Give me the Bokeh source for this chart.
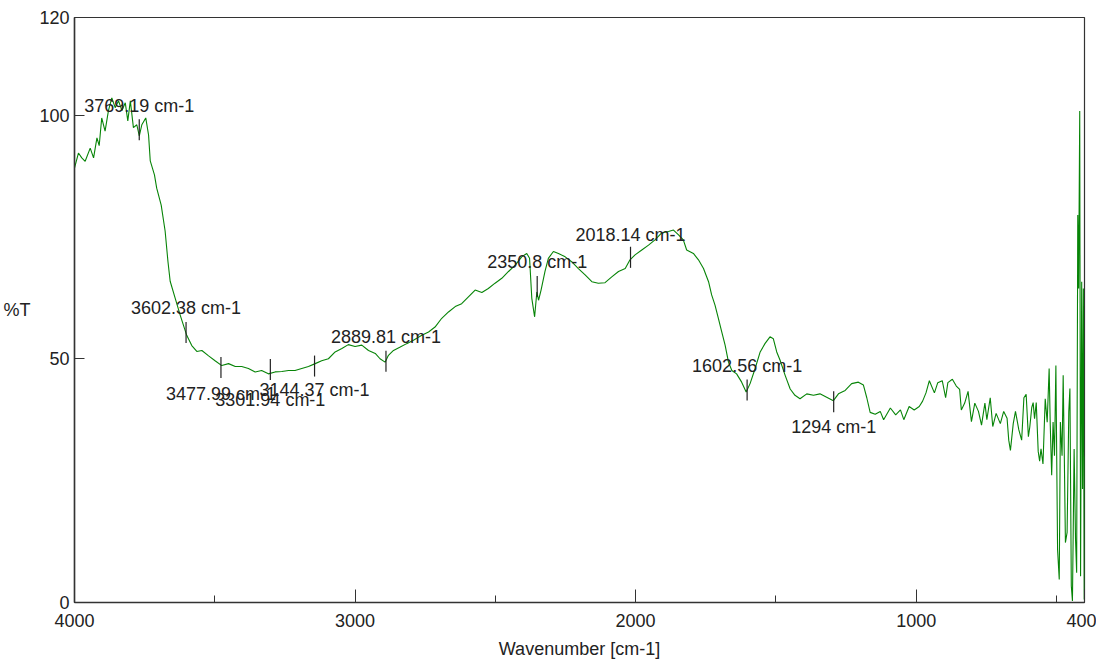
import numpy as np
from bokeh.plotting import figure
from bokeh.models import Range1d, FixedTicker, ColumnDataSource
from bokeh.embed import file_html
from bokeh.resources import INLINE
from bokeh.core.properties import value

# ---------------- data ----------------
wavenumber = [
    4000, 3986, 3974, 3962, 3944, 3932, 3920, 3912, 3903, 3891, 3879, 3867, 3855, 3843,
    3831, 3819, 3810, 3801, 3790, 3778, 3769, 3760, 3746, 3736, 3730, 3715, 3707, 3691,
    3677, 3667, 3659, 3641, 3623, 3600, 3582, 3564, 3546, 3522, 3499, 3475, 3451, 3427,
    3404, 3380, 3356, 3333, 3309, 3285, 3261, 3237, 3214, 3190, 3166, 3142, 3119, 3095,
    3071, 3047, 3024, 3000, 2976, 2952, 2928, 2911, 2893, 2881, 2863, 2839, 2816, 2792,
    2762, 2738, 2715, 2691, 2667, 2643, 2620, 2596, 2572, 2548, 2525, 2501, 2477, 2453,
    2429, 2406, 2388, 2378, 2370, 2360, 2352, 2346, 2337, 2323, 2311, 2293, 2275, 2251,
    2228, 2204, 2180, 2156, 2133, 2109, 2085, 2061, 2037, 2020, 2002, 1978, 1954, 1931,
    1907, 1883, 1865, 1847, 1830, 1818, 1794, 1776, 1758, 1740, 1729, 1717, 1705, 1693,
    1681, 1669, 1657, 1640, 1622, 1606, 1592, 1574, 1556, 1539, 1521, 1509, 1497, 1485,
    1467, 1449, 1432, 1414, 1390, 1366, 1343, 1319, 1295, 1277, 1253, 1230, 1206, 1188,
    1176, 1164, 1146, 1128, 1116, 1092, 1073, 1056, 1044, 1025, 1007, 989, 977, 965,
    953, 935, 923, 907, 895, 887, 871, 857, 845, 839, 827, 815, 803, 791,
    778, 767, 755, 748, 736, 727, 715, 700, 688, 676, 670, 664, 654, 646,
    634, 624, 616, 608, 600, 595, 588, 583, 578, 572, 565, 560, 555, 548,
    540, 533, 526, 522, 517, 512, 507, 502, 496, 490, 486, 480, 476, 472,
    468, 462, 456, 452, 447, 443, 437, 432, 428, 424, 421, 417, 414, 410,
    407, 404, 401, 400,
]
transmittance = [
    89.1, 92.2, 91.2, 90.5, 93.2, 91.2, 95.3, 93.7, 99.4, 96.7, 100.9, 103.5, 101.5, 102.9,
    100.9, 102.5, 98.8, 102.9, 97.4, 98.0, 95.7, 98.0, 99.4, 95.9, 90.6, 87.7, 85.0, 81.5,
    76.2, 70.0, 65.9, 62.4, 58.9, 54.8, 52.7, 51.5, 51.7, 50.6, 49.6, 48.6, 49.0, 48.4,
    48.4, 48.0, 47.3, 47.6, 46.9, 47.3, 47.4, 47.6, 47.6, 48.0, 48.4, 49.0, 49.6, 50.0,
    51.4, 52.1, 52.9, 52.5, 52.8, 51.7, 51.1, 50.0, 49.3, 50.7, 51.7, 52.4, 53.1, 53.8,
    54.8, 55.5, 56.5, 58.3, 59.6, 60.7, 61.3, 62.7, 64.1, 63.6, 64.4, 65.5, 66.5, 67.9,
    69.2, 70.9, 71.6, 70.6, 62.4, 58.6, 63.7, 62.0, 64.1, 67.9, 70.6, 72.0, 71.6, 70.9,
    69.9, 68.5, 67.2, 65.8, 65.5, 65.6, 66.8, 67.9, 68.5, 70.3, 71.3, 72.3, 73.3, 74.4,
    75.8, 76.1, 76.4, 75.4, 74.4, 72.3, 71.6, 70.3, 68.5, 65.8, 63.1, 61.0, 58.3, 55.5,
    52.8, 49.3, 47.6, 46.9, 45.2, 43.2, 44.9, 48.0, 51.4, 53.1, 54.5, 54.1, 51.4, 49.7,
    46.6, 43.8, 42.5, 41.8, 42.8, 42.5, 42.8, 42.1, 41.4, 42.8, 43.5, 44.9, 45.2, 44.6,
    42.0, 39.0, 38.6, 39.2, 37.5, 39.9, 38.5, 39.5, 37.5, 40.2, 39.5, 40.2, 41.3, 43.0,
    45.5, 43.0, 45.1, 45.5, 42.0, 45.1, 45.8, 44.4, 43.7, 39.5, 40.9, 43.3, 37.1, 40.9,
    39.2, 36.4, 40.9, 37.5, 42.0, 36.1, 38.8, 36.7, 39.2, 37.8, 33.3, 31.2, 36.7, 39.2,
    35.4, 33.3, 42.0, 42.7, 34.0, 36.0, 40.0, 41.0, 37.7, 41.0, 31.0, 29.0, 31.5, 28.4,
    41.8, 37.0, 48.0, 36.3, 26.1, 37.0, 30.1, 48.6, 10.9, 4.7, 37.0, 30.1, 46.6, 30.1,
    12.3, 14.4, 39.1, 43.9, 3.4, 0.3, 31.5, 13.0, 6.1, 79.5, 64.4, 100.8, 5.4, 65.8,
    23.3, 64.4, 0.6, 30.0,
]

peak_labels = ["3769.19 cm-1", "3602.38 cm-1", "3477.99 cm-1", "3301.94 cm-1",
               "3144.37 cm-1", "2889.81 cm-1", "2350.8 cm-1", "2018.14 cm-1",
               "1602.56 cm-1", "1294 cm-1"]
peak_wn = [3769.19, 3602.38, 3477.99, 3301.94, 3144.37, 2889.81, 2350.8, 2018.14, 1602.56, 1294]
peak_T = [97.0, 55.4, 48.2, 47.8, 48.5, 49.5, 64.8, 70.8, 43.6, 41.2]

x_ticks = [4000, 3000, 2000, 1000, 400]
x_minor_ticks = [3500, 2500, 1500, 500]
y_ticks = [0, 50, 100, 120]

# ---------------- layout / style ----------------
FONT = "Liberation Sans"
label_dy = [-24, -24, 26, 31, 24, -24, -25, -22, -24, 25]

p = figure(frame_width=1010, frame_height=585, output_backend="svg", toolbar_location=None,
           x_range=Range1d(4000, 400), y_range=Range1d(0, 120),
           min_border_left=68, min_border_right=12, min_border_top=17, min_border_bottom=50)
p.xgrid.visible = False
p.ygrid.visible = False
p.background_fill_color = "white"
p.border_fill_color = "white"
p.outline_line_color = "#333333"
p.outline_line_width = 1.2

p.line(wavenumber, transmittance, line_color="#078407", line_width=1.1)

src = ColumnDataSource(dict(x=peak_wn, y=peak_T, t=peak_labels, dy=label_dy))
p.scatter("x", "y", source=src, marker="dash", angle=np.pi / 2, size=21,
          line_color="#222222", line_width=1.2)
p.text("x", "y", text="t", source=src, y_offset="dy", text_align="center",
       text_baseline="middle", text_font=value(FONT), text_font_size="18px",
       text_color="#222222")

xa = p.xaxis[0]
xa.ticker = FixedTicker(ticks=x_ticks, minor_ticks=x_minor_ticks)
xa.axis_label = "Wavenumber [cm-1]"
ya = p.yaxis[0]
ya.ticker = FixedTicker(ticks=y_ticks)
ya.axis_label = "%T"
ya.axis_label_orientation = "horizontal"

for ax in (xa, ya):
    ax.axis_line_color = "#333333"
    ax.axis_line_width = 1.5
    ax.major_tick_line_color = "#333333"
    ax.minor_tick_line_color = "#333333"
    ax.major_tick_out = 0
    ax.minor_tick_out = 0
    ax.major_label_text_font = FONT
    ax.major_label_text_font_size = "18px"
    ax.major_label_text_color = "#222222"
    ax.axis_label_text_font = FONT
    ax.axis_label_text_font_size = "18px"
    ax.axis_label_text_font_style = "normal"
    ax.axis_label_text_color = "#222222"

xa.major_tick_in = 13
xa.minor_tick_in = 7
xa.major_label_standoff = 11
xa.axis_label_standoff = 9
ya.major_tick_in = 10
ya.minor_tick_line_color = None
ya.major_label_standoff = 5
ya.axis_label_standoff = 6

open("out.html", "w").write(file_html(p, INLINE))
